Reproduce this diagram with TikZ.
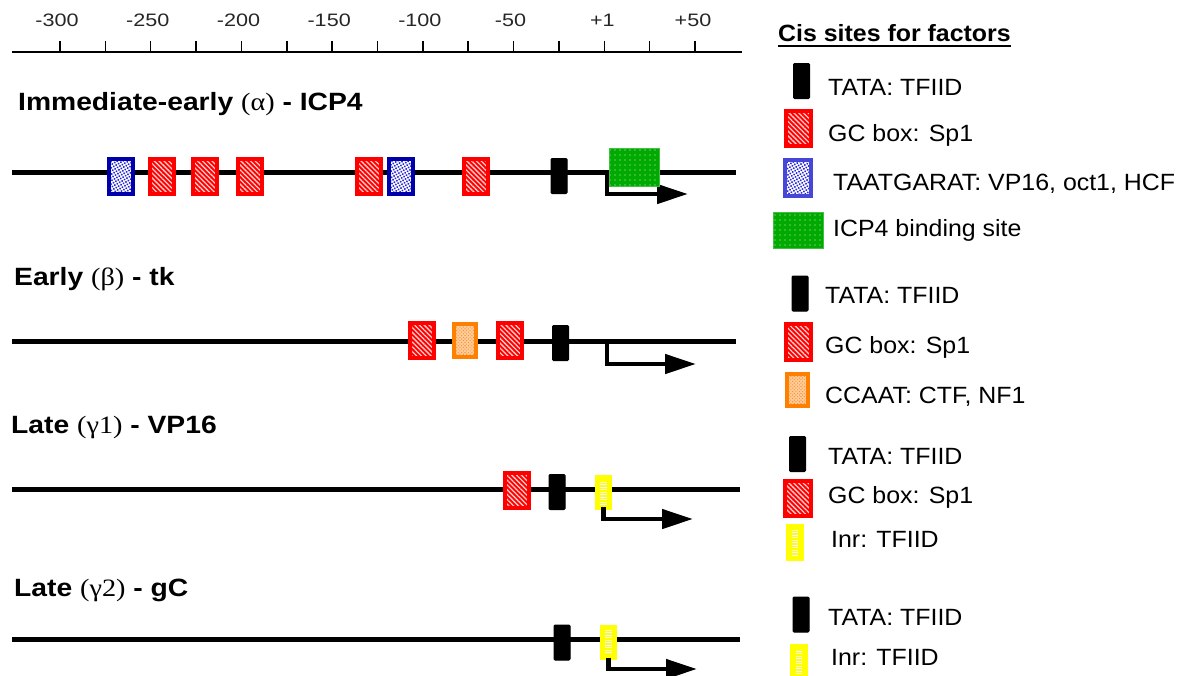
\documentclass[tikz,border=0pt]{standalone}
\usepackage{fontspec}
\setmainfont{Liberation Sans}
\newfontfamily\ttlfont[FakeStretch=1.13]{Liberation Sans}
\newfontfamily\grkfont[FakeStretch=1.13]{Liberation Serif}
\newfontfamily\lgdfont[FakeStretch=1.06]{Liberation Sans}
\newfontfamily\axfont[FakeStretch=1.2]{Liberation Sans}
\usetikzlibrary{patterns.meta,arrows.meta}

\definecolor{gcred}{RGB}{255,0,0}
\definecolor{octblue}{RGB}{0,0,170}
\definecolor{octlight}{RGB}{70,70,215}
\definecolor{dotblue}{RGB}{40,40,215}
\definecolor{ccaatorange}{RGB}{255,128,0}
\definecolor{ccaatfill}{RGB}{255,205,160}
\definecolor{icpgreen}{RGB}{0,170,0}
\definecolor{inryellow}{RGB}{255,255,0}

\tikzset{
  site/.style={rectangle, inner sep=0pt, outer sep=0pt},
  gcsite/.style={site, draw=gcred, line width=4pt,
    minimum width=24pt, minimum height=35pt,
    preaction={fill=gcred},
    pattern={Lines[angle=-45,distance=3.4pt,line width=1.3pt]},
    pattern color=white!80!gcred},
  octsite/.style={site, draw=octblue, line width=4pt,
    minimum width=24pt, minimum height=35pt,
    preaction={fill=white},
    pattern={Dots[distance=2.8pt,radius=1.1pt,angle=30]},
    pattern color=dotblue},
  tatasite/.style={site, fill=black, draw=black, line width=1pt,
    rounded corners=1pt, minimum width=16pt, minimum height=35pt},
  icpsite/.style={site, draw=icpgreen!75!white, line width=1pt,
    minimum width=50pt, minimum height=38pt,
    preaction={fill=icpgreen},
    pattern={Dots[distance=5pt,radius=0.7pt]},
    pattern color=white!85!icpgreen},
  ccaatsite/.style={site, draw=ccaatorange, line width=4pt,
    minimum width=22pt, minimum height=33pt,
    preaction={fill=ccaatfill},
    pattern={Dots[distance=2.4pt,radius=0.75pt,angle=45]},
    pattern color=ccaatorange!85!white},
  inrsite/.style={site, draw=inryellow, fill=inryellow, line width=5pt,
    minimum width=12pt, minimum height=30pt,
    path picture={
      \foreach \i in {-5,...,5}
        \draw[white, line width=1pt]
          ([xshift=-3.2pt,yshift=\i*2.5pt]path picture bounding box.center) --
          ([xshift=3.2pt,yshift=\i*2.5pt]path picture bounding box.center);
    }},
  dna/.style={line width=5pt},
  txarrow/.style={line width=4.5pt, line join=miter,
    -{Triangle[length=31pt,width=19pt]}},
  axisline/.style={line width=2.5pt},
  tickmark/.style={line width=1.5pt},
  axlabel/.style={inner sep=0pt, anchor=base,
    font=\axfont\fontsize{18}{20}\selectfont, text=black!85},
  genetitle/.style={inner sep=0pt, anchor=base west,
    font=\ttlfont\bfseries\fontsize{25}{28}\selectfont},
  legendhead/.style={inner sep=0pt, anchor=base west,
    font=\lgdfont\bfseries\fontsize{23.5}{26}\selectfont},
  legendtext/.style={inner sep=0pt, anchor=base west,
    font=\lgdfont\fontsize{23.5}{26}\selectfont},
}

\begin{document}
\begin{tikzpicture}[x=1pt, y=-1pt]
\useasboundingbox (0,0) rectangle (1188,675);

% position scale
\coordinate (axstart) at (12,52);
\coordinate (axend) at (742,52);
\draw[axisline] (axstart) -- (axend);
\foreach \k in {0,...,14}
  \draw[tickmark] (60+\k*45.36,52) -- ++(0,-11);
\foreach \k/\lab/\dx in {0/-300/-3, 2/-250/-3, 4/-200/-3, 6/-150/-3,
                         8/-100/-3, 10/-50/-3, 12/+1/-2, 14/+50/-2}
  \node[axlabel] (ax\k) at (60+\k*45.36+\dx,26) {\lab};

% immediate-early gene
\node[genetitle] (title1) at (18,110) {Immediate-early {\grkfont\mdseries(α)} - ICP4};
\coordinate (dna1s) at (12,172);
\coordinate (dna1e) at (736,172);
\draw[dna] (dna1s) -- (dna1e);
\coordinate (tss1) at (607,172);
\coordinate (tip1) at (688,194);
\draw[txarrow] (tss1) |- (tip1);
\node[octsite] (oct1a) at (121,176.5) {};
\node[gcsite]  (gc1a)  at (162,176.5) {};
\node[gcsite]  (gc1b)  at (205,176.5) {};
\node[gcsite]  (gc1c)  at (250,176.5) {};
\node[gcsite]  (gc1d)  at (368.5,176.5) {};
\node[octsite] (oct1b) at (401,176.5) {};
\node[gcsite]  (gc1e)  at (476,176.5) {};
\node[tatasite] (tata1) at (559,176) {};
\node[icpsite] (icp1)  at (634.5,167.5) {};

% early gene
\node[genetitle] (title2) at (14,285) {Early {\grkfont\mdseries(β)} - tk};
\coordinate (dna2s) at (12,341);
\coordinate (dna2e) at (736,341);
\draw[dna] (dna2s) -- (dna2e);
\coordinate (tss2) at (607,341);
\coordinate (tip2) at (696,364);
\draw[txarrow] (tss2) |- (tip2);
\node[gcsite]    (gc2a)  at (421.5,340) {};
\node[ccaatsite] (ccaat2) at (464.5,340) {};
\node[gcsite]    (gc2b)  at (510,340) {};
\node[tatasite]  (tata2) at (560.5,343) {};

% late gene, gamma 1
\node[genetitle] (title3) at (11,433) {Late {\grkfont\mdseries(γ1)} - VP16};
\coordinate (dna3s) at (12,489);
\coordinate (dna3e) at (740,489);
\draw[dna] (dna3s) -- (dna3e);
\node[gcsite]   (gc3)   at (517,490) {};
\node[tatasite] (tata3) at (557,492) {};
\node[inrsite]  (inr3)  at (603.5,492) {};
\coordinate (tip3) at (693,519);
\draw[txarrow] (inr3.south) |- (tip3);

% late gene, gamma 2
\node[genetitle] (title4) at (14,596) {Late {\grkfont\mdseries(γ2)} - gC};
\coordinate (dna4s) at (12,639);
\coordinate (dna4e) at (740,639);
\draw[dna] (dna4s) -- (dna4e);
\node[tatasite] (tata4) at (562,642.5) {};
\node[inrsite]  (inr4)  at (608.5,642.5) {};
\coordinate (tip4) at (697,669);
\draw[txarrow] (inr4.south) |- (tip4);

% legend
\node[legendhead] (lghead) at (778,41) {Cis sites for factors};
\draw[line width=1.6pt] ([yshift=-5pt]lghead.base west) -- ([yshift=-5pt]lghead.base east);

\node[tatasite] (lgtata1) at (801.5,81) {};
\node[legendtext] (lgtxt1) at (828,95.5) {TATA: TFIID};
\node[gcsite, minimum width=25pt] (lggc1) at (798.5,128.5) {};
\node[legendtext] (lgtxt2) at (828,141) {GC box: Sp1};
\node[octsite, draw=octlight, minimum width=26pt, minimum height=36pt] (lgoct1) at (798,178) {};
\node[legendtext] (lgtxt3) at (833,190.5) {TAATGARAT: VP16, oct1, HCF};
\node[icpsite, minimum height=36pt] (lgicp1) at (798,230.5) {};
\node[legendtext] (lgtxt4) at (833,236) {ICP4 binding site};

\node[tatasite] (lgtata2) at (800,293.5) {};
\node[legendtext] (lgtxt5) at (825,303) {TATA: TFIID};
\node[gcsite, minimum width=25pt, minimum height=36pt] (lggc2) at (798.5,342) {};
\node[legendtext] (lgtxt6) at (825,353) {GC box: Sp1};
\node[ccaatsite, minimum width=21pt, minimum height=32pt] (lgccaat2) at (797.5,390) {};
\node[legendtext] (lgtxt7) at (825,403) {CCAAT: CTF, NF1};

\node[tatasite] (lgtata3) at (797.5,454) {};
\node[legendtext] (lgtxt8) at (828,464) {TATA: TFIID};
\node[gcsite, minimum width=26pt] (lggc3) at (798,498.5) {};
\node[legendtext] (lgtxt9) at (828,503) {GC box: Sp1};
\node[inrsite, minimum width=13pt, minimum height=32pt] (lginr3) at (795,542.5) {};
\node[legendtext] (lgtxt10) at (831,547) {Inr: TFIID};

\node[tatasite] (lgtata4) at (801,614.5) {};
\node[legendtext] (lgtxt11) at (828,625) {TATA: TFIID};
\node[inrsite, minimum width=13pt] (lginr4) at (799,661) {};
\node[legendtext] (lgtxt12) at (831,665) {Inr: TFIID};
\end{tikzpicture}
\end{document}
